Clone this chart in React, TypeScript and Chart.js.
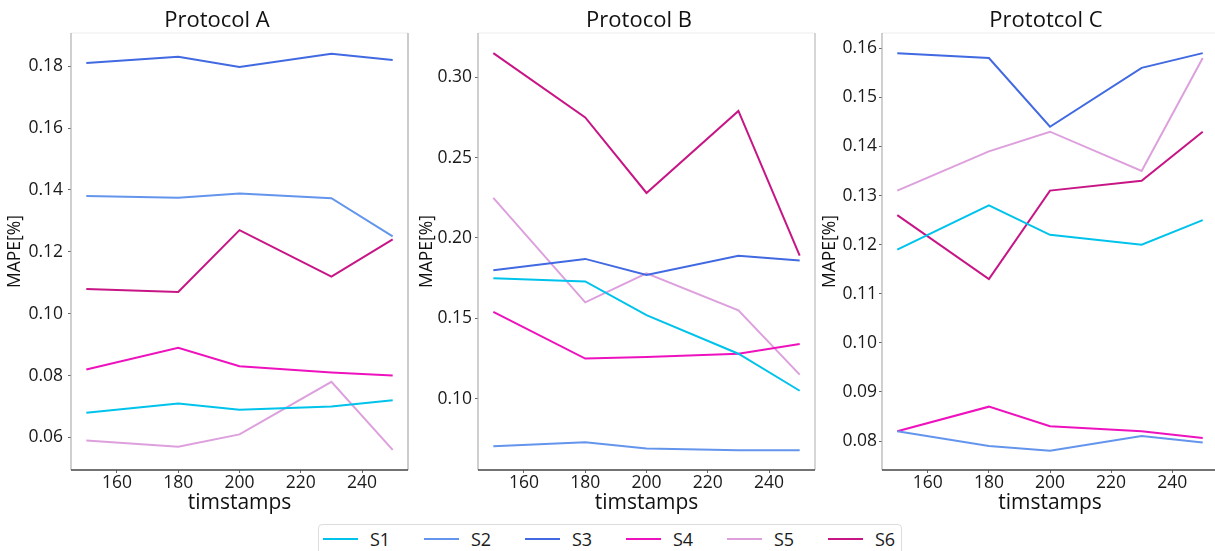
import React, { useEffect, useRef } from "react";
import { Chart, registerables } from "chart.js";

Chart.register(...registerables);

const FONT = "'Open Sans', 'Noto Sans', sans-serif";

// ---------- data ----------
const timestamps = [150, 180, 200, 230, 250];
const xTickValues = [160, 180, 200, 220, 240];
const seriesNames = ["S1", "S2", "S3", "S4", "S5", "S6"];
const seriesColors = ["#00C3EC", "#6495ED", "#4169E1", "#EE12BE", "#DDA0DD", "#C71585"];

// Protocol A
const protocolA_S1 = [0.068, 0.071, 0.069, 0.070, 0.072];
const protocolA_S2 = [0.138, 0.1375, 0.1388, 0.1373, 0.125];
const protocolA_S3 = [0.181, 0.183, 0.1797, 0.184, 0.182];
const protocolA_S4 = [0.082, 0.089, 0.083, 0.081, 0.080];
const protocolA_S5 = [0.059, 0.057, 0.061, 0.078, 0.056];
const protocolA_S6 = [0.108, 0.107, 0.127, 0.112, 0.124];
const protocolA_yTicks = [0.06, 0.08, 0.10, 0.12, 0.14, 0.16, 0.18];

// Protocol B
const protocolB_S1 = [0.175, 0.173, 0.152, 0.128, 0.105];
const protocolB_S2 = [0.0705, 0.073, 0.069, 0.068, 0.068];
const protocolB_S3 = [0.180, 0.187, 0.177, 0.189, 0.186];
const protocolB_S4 = [0.154, 0.125, 0.126, 0.128, 0.134];
const protocolB_S5 = [0.225, 0.160, 0.178, 0.155, 0.115];
const protocolB_S6 = [0.315, 0.275, 0.228, 0.279, 0.189];
const protocolB_yTicks = [0.10, 0.15, 0.20, 0.25, 0.30];

// Protocol C
const protocolC_S1 = [0.119, 0.128, 0.122, 0.120, 0.125];
const protocolC_S2 = [0.082, 0.079, 0.078, 0.081, 0.0797];
const protocolC_S3 = [0.159, 0.158, 0.144, 0.156, 0.159];
const protocolC_S4 = [0.082, 0.087, 0.083, 0.082, 0.0806];
const protocolC_S5 = [0.131, 0.139, 0.143, 0.135, 0.158];
const protocolC_S6 = [0.126, 0.113, 0.131, 0.133, 0.143];
const protocolC_yTicks = [0.08, 0.09, 0.10, 0.11, 0.12, 0.13, 0.14, 0.15, 0.16];

const panelTitles = ["Protocol A", "Protocol B", "Prototcol C"];
const xAxisLabel = "timstamps";
const yAxisLabel = "MAPE[%]";

// ---------- layout config ----------
const panels = [
  {
    title: panelTitles[0],
    series: [protocolA_S1, protocolA_S2, protocolA_S3, protocolA_S4, protocolA_S5, protocolA_S6],
    yTicks: protocolA_yTicks,
    yMin: 0.0495,
    yMax: 0.1907,
    left: 0,
    width: 410,
    yWidth: 71,
    yPad: 5,
    yTitlePad: 4.5,
    titleX: 217,
    rightSpine: "#aaaaaa",
  },
  {
    title: panelTitles[1],
    series: [protocolB_S1, protocolB_S2, protocolB_S3, protocolB_S4, protocolB_S5, protocolB_S6],
    yTicks: protocolB_yTicks,
    yMin: 0.0557,
    yMax: 0.3275,
    left: 405,
    width: 412,
    yWidth: 73,
    yPad: 3,
    yTitlePad: 11.5,
    titleX: 639,
    rightSpine: "#bbbbbb",
  },
  {
    title: panelTitles[2],
    series: [protocolC_S1, protocolC_S2, protocolC_S3, protocolC_S4, protocolC_S5, protocolC_S6],
    yTicks: protocolC_yTicks,
    yMin: 0.0741,
    yMax: 0.1631,
    left: 810,
    width: 410,
    yWidth: 72,
    yPad: 2,
    yTitlePad: 9.5,
    titleX: 1046,
    rightSpine: "#dddddd",
  },
];

const spinesPlugin = {
  id: "spines",
  afterDatasetsDraw(chart: any, _args: any, opts: any) {
    const { ctx, chartArea } = chart;
    const { left, right, top, bottom } = chartArea;
    ctx.save();
    ctx.lineWidth = 1.2;
    ctx.strokeStyle = "#eeeeee";
    ctx.beginPath();
    ctx.moveTo(left, top);
    ctx.lineTo(right, top);
    ctx.stroke();
    ctx.strokeStyle = opts.right || "#bbbbbb";
    ctx.beginPath();
    ctx.moveTo(right, top);
    ctx.lineTo(right, bottom);
    ctx.stroke();
    ctx.strokeStyle = "#b0b0b0";
    ctx.beginPath();
    ctx.moveTo(left, top);
    ctx.lineTo(left, bottom);
    ctx.stroke();
    ctx.strokeStyle = "#444444";
    ctx.lineWidth = 1.5;
    ctx.beginPath();
    ctx.moveTo(left, bottom);
    ctx.lineTo(right, bottom);
    ctx.stroke();
    ctx.restore();
  },
};

function Panel({ cfg }: { cfg: any }) {
  const ref = useRef<HTMLCanvasElement | null>(null);
  useEffect(() => {
    if (!ref.current) return;
    const chart = new Chart(ref.current, {
      type: "line",
      data: {
        datasets: cfg.series.map((vals: number[], i: number) => ({
          label: seriesNames[i],
          data: timestamps.map((t, j) => ({ x: t, y: vals[j] })),
          borderColor: seriesColors[i],
          backgroundColor: seriesColors[i],
          borderWidth: 2,
          pointRadius: 0,
          tension: 0,
          fill: false,
        })),
      },
      options: {
        responsive: false,
        animation: false,
        devicePixelRatio: 1,
        layout: { padding: { top: 33, right: 2, left: 0, bottom: 0 } },
        plugins: {
          legend: { display: false },
          title: { display: false },
          tooltip: { enabled: false },
          spines: { right: cfg.rightSpine },
        } as any,
        scales: {
          x: {
            type: "linear",
            min: 145,
            max: 255,
            afterBuildTicks: (s: any) => {
              s.ticks = xTickValues.map((v) => ({ value: v }));
            },
            afterFit: (s: any) => {
              s.height = 50;
            },
            grid: { display: true, drawOnChartArea: false, drawTicks: true, tickLength: 3, color: "#666666" },
            border: { display: false },
            ticks: {
              autoSkip: false,
              maxRotation: 0,
              padding: 0,
              color: "#1a1a1a",
              font: { family: FONT, size: 17.5 },
              callback: (v: any) => String(v),
            },
            title: {
              display: true,
              text: xAxisLabel,
              color: "#111111",
              font: { family: FONT, size: 21 },
              padding: { top: 0, bottom: 4.4 },
            },
          },
          y: {
            type: "linear",
            min: cfg.yMin,
            max: cfg.yMax,
            afterBuildTicks: (s: any) => {
              s.ticks = cfg.yTicks.map((v: number) => ({ value: v }));
            },
            afterFit: (s: any) => {
              s.width = cfg.yWidth;
            },
            grid: { display: true, drawOnChartArea: false, drawTicks: true, tickLength: 3, color: "#666666" },
            border: { display: false },
            ticks: {
              autoSkip: false,
              padding: cfg.yPad,
              color: "#1a1a1a",
              font: { family: FONT, size: 17.5 },
              callback: (v: any) => Number(v).toFixed(2),
            },
            title: {
              display: true,
              text: yAxisLabel,
              color: "#111111",
              font: { family: FONT, size: 17.5 },
              padding: { top: cfg.yTitlePad, bottom: 0 },
            },
          },
        },
      },
      plugins: [spinesPlugin],
    } as any);
    return () => chart.destroy();
  }, []);
  return (
    <canvas
      ref={ref}
      width={cfg.width}
      height={520}
      style={{ position: "absolute", left: cfg.left, top: 0, width: cfg.width, height: 520 }}
    />
  );
}

export default function App() {
  return (
    <div
      style={{
        position: "absolute",
        left: 0,
        top: 0,
        width: 1215,
        height: 551,
        overflow: "hidden",
        background: "#ffffff",
        fontFamily: FONT,
      }}
    >
      {panels.map((p, i) => (
        <Panel key={i} cfg={p} />
      ))}
      {panels.map((p, i) => (
        <div
          key={"t" + i}
          style={{
            position: "absolute",
            left: p.titleX - 100,
            width: 200,
            top: 3,
            height: 30,
            lineHeight: "30px",
            textAlign: "center",
            fontSize: 22,
            color: "#111111",
          }}
        >
          {p.title}
        </div>
      ))}
      <div
        style={{
          position: "absolute",
          left: 318,
          top: 524,
          width: 584,
          height: 40,
          border: "1px solid #dddddd",
          borderRadius: 4,
          boxSizing: "border-box",
        }}
      />
      {seriesNames.map((name, i) => (
        <div
          key={"l" + i}
          style={{ position: "absolute", left: 323 + i * 101, top: 527, height: 24, display: "flex", alignItems: "center" }}
        >
          <div style={{ width: 35, height: 2, background: seriesColors[i] }} />
          <div style={{ marginLeft: 12, fontSize: 18, color: "#1a1a1a", lineHeight: "24px" }}>{name}</div>
        </div>
      ))}
    </div>
  );
}
